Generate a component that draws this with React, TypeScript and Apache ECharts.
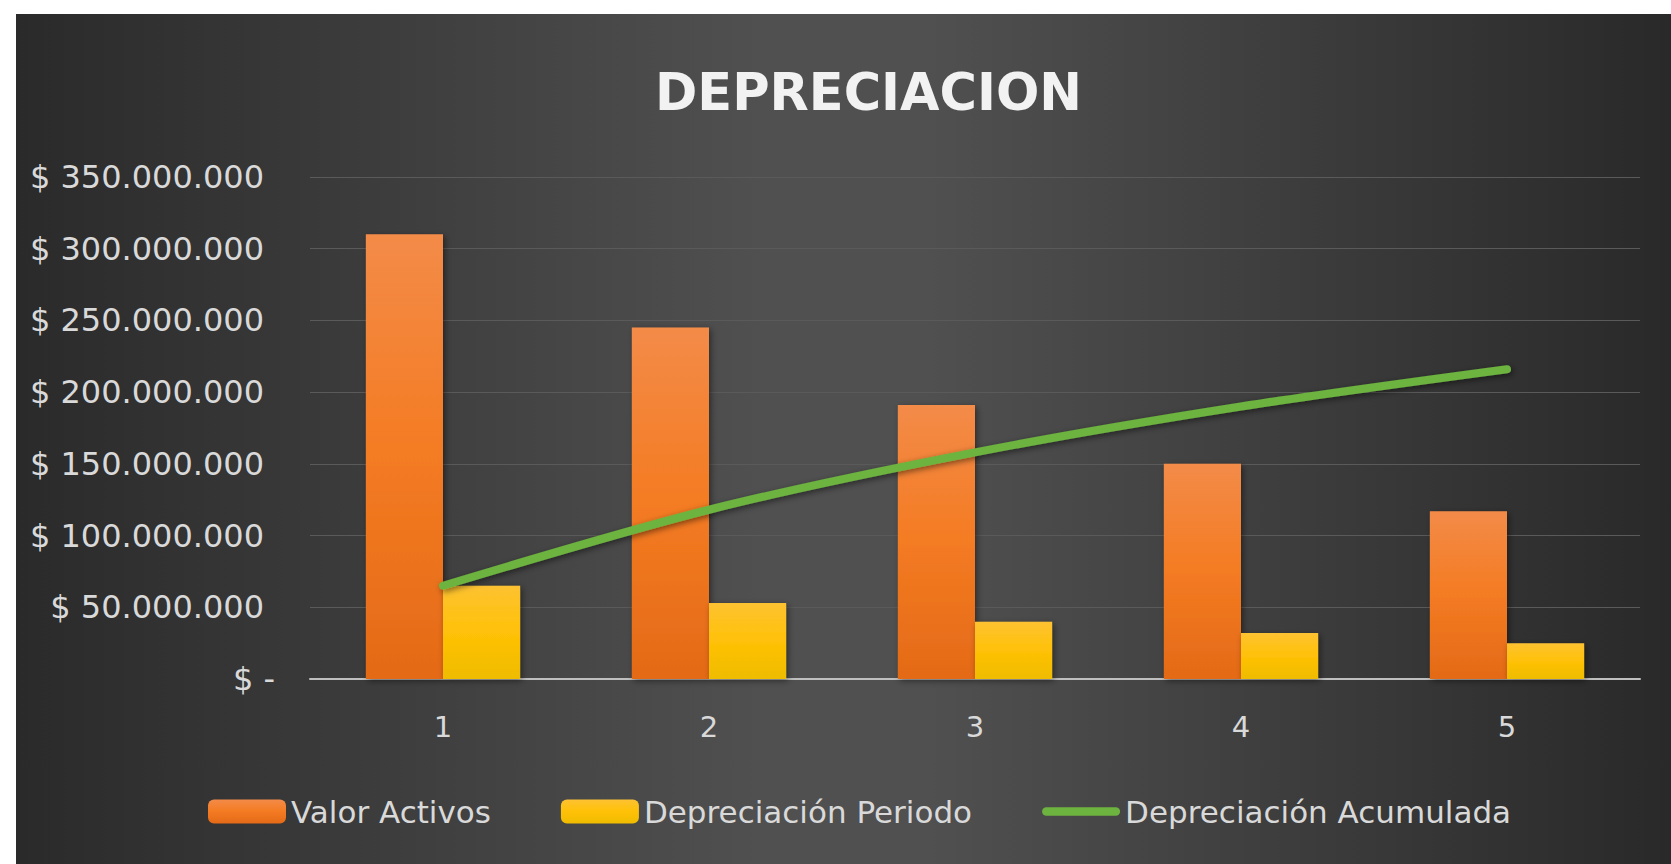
import React, { useEffect, useRef } from "react";
import * as echarts from "echarts";

const categories = ["1", "2", "3", "4", "5"];
const valorActivos = [310000000, 245000000, 191000000, 150000000, 117000000];
const depreciacionPeriodo = [65000000, 53000000, 40000000, 32000000, 25000000];
const depreciacionAcumulada = [65000000, 118000000, 158000000, 190000000, 216000000];
const yTicks = { min: 0, max: 350000000, interval: 50000000 };
const seriesNames = ["Valor Activos", "Depreciación Periodo", "Depreciación Acumulada"];
const titleText = "DEPRECIACION";

const fmt = (v: number) =>
  v === 0
    ? "{z|$ -}"
    : "{n|$ " + String(Math.round(v)).replace(/\B(?=(\d{3})+(?!\d))/g, ".") + "}";

export default function App() {
  const ref = useRef<HTMLDivElement>(null);
  useEffect(() => {
    if (!ref.current) return;
    const chart = echarts.init(ref.current, undefined, { renderer: "svg" });
    const labelFont = "'DejaVu Sans', sans-serif";
    chart.setOption({
      animation: false,
      backgroundColor: new echarts.graphic.LinearGradient(0, 0, 1, 0, [
        { offset: 0, color: "#2a2a2a" },
        { offset: 0.45, color: "#505050" },
        { offset: 0.55, color: "#505050" },
        { offset: 1, color: "#292929" },
      ]),
      title: {
        text: titleText,
        left: 634,
        top: 48,
        textStyle: {
          color: "#f2f2f2",
          fontFamily: "'DejaVu Sans', sans-serif",
          fontWeight: "bold",
          fontSize: 51,
        },
      },
      grid: { left: 294, right: 31, top: 163, bottom: 185, containLabel: false },
      legend: {
        left: 187,
        top: 777,
        itemWidth: 78,
        itemHeight: 24,
        itemGap: 70,
        textStyle: { color: "#d9d9d9", fontFamily: labelFont, fontSize: 31 },
        data: [
          { name: seriesNames[0] },
          { name: seriesNames[1] },
          {
            name: seriesNames[2],
            icon: "path://M5,0 L87,0 A5,5 0 0 1 87,10 L5,10 A5,5 0 0 1 5,0 Z",
            itemStyle: { color: "#6db33f" },
          },
        ],
      },
      xAxis: {
        type: "category",
        data: categories,
        axisLine: { lineStyle: { color: "#bfbfbf", width: 2 } },
        axisTick: { show: false },
        axisLabel: { color: "#d9d9d9", fontFamily: labelFont, fontSize: 29, margin: 33 },
      },
      yAxis: {
        type: "value",
        min: yTicks.min,
        max: yTicks.max,
        interval: yTicks.interval,
        axisLine: { show: false },
        axisTick: { show: false },
        splitLine: { lineStyle: { color: "#5a5a5a", width: 1 } },
        axisLabel: {
          color: "#d9d9d9",
          fontFamily: labelFont,
          fontSize: 32,
          margin: 35,
          formatter: (v: number) => fmt(v),
          rich: {
            n: { color: "#d9d9d9", fontFamily: labelFont, fontSize: 32, padding: [0, 11, 0, 0] },
            z: { color: "#d9d9d9", fontFamily: labelFont, fontSize: 32 },
          },
        },
      },
      series: [
        {
          name: seriesNames[0],
          type: "bar",
          data: valorActivos,
          barGap: "0%",
          barCategoryGap: "42%",
          itemStyle: {
            color: new echarts.graphic.LinearGradient(0, 0, 0, 1, [
              { offset: 0, color: "#f38b48" },
              { offset: 0.5, color: "#f47b22" },
              { offset: 1, color: "#e46a17" },
            ]),
            shadowBlur: 6,
            shadowColor: "rgba(0,0,0,0.45)",
            shadowOffsetX: 2,
            shadowOffsetY: 2,
          },
        },
        {
          name: seriesNames[1],
          type: "bar",
          data: depreciacionPeriodo,
          itemStyle: {
            color: new echarts.graphic.LinearGradient(0, 0, 0, 1, [
              { offset: 0, color: "#fdc232" },
              { offset: 0.5, color: "#ffc107" },
              { offset: 1, color: "#efbc00" },
            ]),
            shadowBlur: 6,
            shadowColor: "rgba(0,0,0,0.45)",
            shadowOffsetX: 2,
            shadowOffsetY: 2,
          },
        },
        {
          name: seriesNames[2],
          type: "line",
          data: depreciacionAcumulada,
          smooth: 0.3,
          symbol: "none",
          lineStyle: {
            color: "#6db33f",
            width: 8,
            cap: "round",
            shadowBlur: 6,
            shadowColor: "rgba(0,0,0,0.5)",
            shadowOffsetX: 2,
            shadowOffsetY: 2,
          },
          itemStyle: { color: "#6db33f" },
          z: 5,
        },
      ],
    });
    return () => chart.dispose();
  }, []);
  return (
    <div style={{ position: "absolute", left: 0, top: 0, width: 1671, height: 864, background: "#ffffff" }}>
      <div ref={ref} style={{ position: "absolute", left: 16, top: 14, width: 1655, height: 850 }} />
    </div>
  );
}
